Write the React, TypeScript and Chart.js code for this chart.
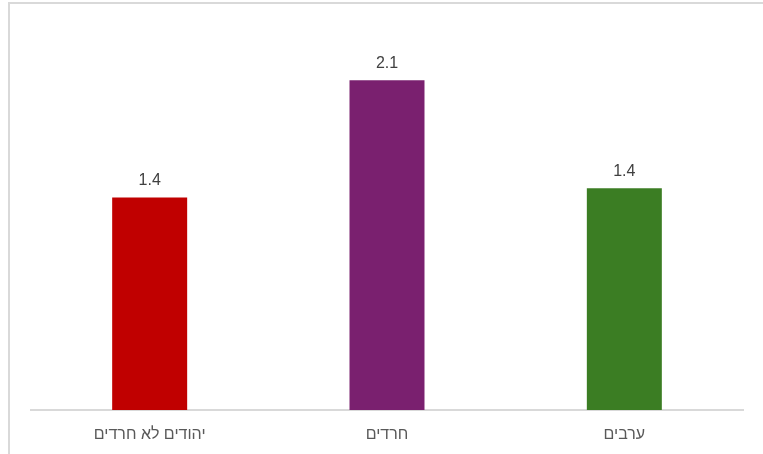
import React, { useEffect, useRef } from "react";
import { Chart, registerables } from "chart.js";

Chart.register(...registerables);

const categories = ["יהודים לא חרדים", "חרדים", "ערבים"];
const values = [1.36, 2.11, 1.42];
const barColors = ["#C00000", "#7A206F", "#3B7D23"];

const valueLabels = {
  id: "valueLabels",
  afterDatasetsDraw(chart: any) {
    const ctx = chart.ctx;
    const meta = chart.getDatasetMeta(0);
    ctx.save();
    ctx.font = "16px 'Liberation Sans', Arial, sans-serif";
    ctx.fillStyle = "#404040";
    ctx.textAlign = "center";
    ctx.textBaseline = "middle";
    meta.data.forEach((bar: any, i: number) => {
      ctx.fillText(values[i].toFixed(1), bar.x, bar.y - 17);
    });
    ctx.restore();
  },
};

export default function App() {
  const ref = useRef<HTMLCanvasElement>(null);
  useEffect(() => {
    if (!ref.current) return;
    const chart = new Chart(ref.current, {
      type: "bar",
      data: {
        labels: categories,
        datasets: [
          {
            data: values,
            backgroundColor: barColors,
            borderWidth: 0,
            categoryPercentage: 1,
            barPercentage: 0.316,
          },
        ],
      },
      options: {
        animation: false,
        responsive: false,
        maintainAspectRatio: false,
        layout: { padding: { left: 31, right: 20, top: 35, bottom: 10 } },
        plugins: { legend: { display: false }, tooltip: { enabled: false } },
        scales: {
          x: {
            grid: { display: false, drawTicks: false },
            border: { color: "#d9d9d9", width: 2 },
            ticks: {
              color: "#595959",
              font: { size: 16, family: "'Liberation Sans', Arial, sans-serif" },
              padding: 15,
            },
            afterFit: (s: any) => {
              s.height = 34;
            },
          },
          y: { display: false, min: 0, max: 2.4 },
        },
      },
      plugins: [valueLabels],
    });
    return () => chart.destroy();
  }, []);
  return (
    <div style={{ position: "fixed", left: 0, top: 0, width: 763, height: 454, overflow: "hidden", background: "#fff" }}>
      <div
        style={{
          position: "absolute",
          left: 8,
          top: 2,
          width: 900,
          height: 600,
          borderTop: "2px solid #d9d9d9",
          borderLeft: "2px solid #d9d9d9",
        }}
      />
      <canvas ref={ref} width={763} height={454} style={{ position: "absolute", left: 0, top: 0 }} />
    </div>
  );
}
